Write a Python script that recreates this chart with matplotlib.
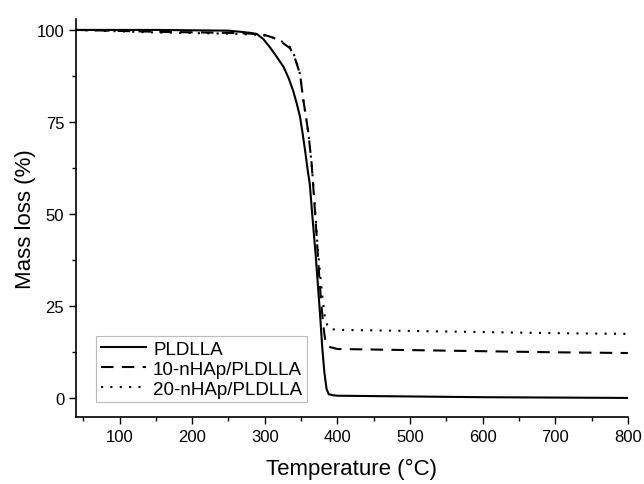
import numpy as np
import matplotlib.pyplot as plt
from matplotlib.ticker import MultipleLocator

plt.rcParams['font.family'] = ['Liberation Sans', 'DejaVu Sans']

# TGA curves
temp_pldlla = [40, 150, 250, 266, 280, 289, 298, 307, 316, 326, 333, 339, 344, 348.5, 352, 355.5,
               359, 362, 366, 370, 373, 376, 379, 382, 385, 388, 395, 400, 500, 600, 700, 800]
mass_pldlla = [100, 100, 99.8, 99.5, 99.2, 98.9, 97.5, 95.3, 92.8, 89.9, 86.8, 83.5, 80, 76.4, 72, 67.2,
               62, 58, 48.2, 39, 31, 23, 14, 7, 2.5, 1.0, 0.7, 0.6, 0.4, 0.2, 0.1, 0.0]

temp_10 = [40, 150, 250, 280, 300, 310, 321, 335, 342, 348.5, 353, 357, 360, 364.5, 369, 372, 375,
           378, 381, 383, 386, 390, 400, 500, 600, 700, 800]
mass_10 = [100, 99.5, 99.2, 99, 98.6, 98, 97, 95, 92, 88, 81, 76, 72, 63.6, 51, 42, 33,
           25, 19, 16, 14.3, 13.8, 13.3, 13.0, 12.7, 12.4, 12.2]

temp_20 = [40, 150, 250, 280, 300, 310, 321, 335, 342, 348.5, 353, 357, 360, 364.5, 369, 372, 376,
           379, 383, 387, 392, 400, 500, 600, 700, 800]
mass_20 = [100, 99.3, 99.0, 98.8, 98.5, 98, 97.2, 95.3, 92.5, 88, 81, 76, 72, 63.6, 52, 43, 34,
           28, 21.5, 19.2, 18.7, 18.5, 18.2, 17.9, 17.6, 17.4]

fig = plt.figure(figsize=(6.44, 4.85), dpi=100)
ax = fig.add_axes([0.118, 0.138, 0.857, 0.821])

ax.plot(temp_pldlla, mass_pldlla, color='black', lw=1.5, ls='-', label='PLDLLA')
ax.plot(temp_10, mass_10, color='black', lw=1.5, ls=(0, (6, 4)), label='10-nHAp/PLDLLA')
ax.plot(temp_20, mass_20, color='black', lw=1.5, ls=(0, (1, 3.5)), label='20-nHAp/PLDLLA')

ax.set_xlim(40, 800)
ax.set_ylim(-5.2, 103)
ax.xaxis.set_major_locator(MultipleLocator(100))
ax.xaxis.set_minor_locator(MultipleLocator(50))
ax.yaxis.set_major_locator(MultipleLocator(25))
ax.yaxis.set_minor_locator(MultipleLocator(12.5))
ax.tick_params(which='major', direction='out', length=5, width=1, labelsize=12)
ax.tick_params(which='minor', direction='out', length=3, width=1)
for s in ['top', 'right']:
    ax.spines[s].set_visible(False)
for s in ['left', 'bottom']:
    ax.spines[s].set_linewidth(1.2)

ax.set_xlabel('Temperature (°C)', fontsize=16, labelpad=10)
ax.set_ylabel('Mass loss (%)', fontsize=16, labelpad=0)

leg = ax.legend(loc='lower left', bbox_to_anchor=(0.036, 0.037), fontsize=13.5,
                frameon=True, fancybox=False, edgecolor='#aaaaaa',
                handlelength=2.4, handletextpad=0.4, borderpad=0.25,
                labelspacing=0.15, borderaxespad=0)
leg.get_frame().set_linewidth(0.8)

fig.savefig('out.png', dpi=100)
